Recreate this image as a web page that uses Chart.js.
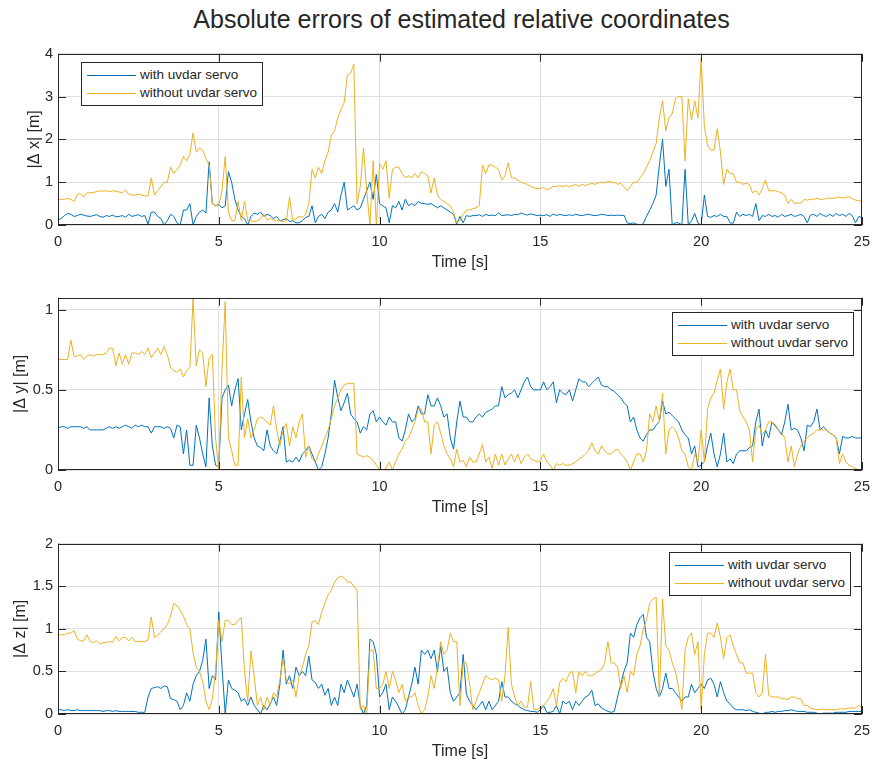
<!DOCTYPE html>
<html>
<head>
<meta charset="utf-8">
<script src="https://cdn.jsdelivr.net/npm/chart.js@4.4.1/dist/chart.umd.min.js"></script>
<style>
  body { margin: 0; background: #fff; width: 878px; height: 764px; overflow: hidden; position: relative;
         font-family: "Liberation Sans", Arial, sans-serif; color: #262626; }
  .title { position: absolute; left: 58px; width: 807px; top: 7px; text-align: center;
           font-size: 25px; line-height: 25px; }
  .plot { position: absolute; left: 0; }
  .legend { position: absolute; width: 180px; height: 39px; border: 1px solid #262626; background: #fff;
            padding-top: 3px; box-sizing: content-box; font-size: 13.5px; }
  .legend .row { height: 18px; line-height: 18px; white-space: nowrap; display: flex; align-items: center; }
  .legend .swatch { display: inline-block; width: 49px; border-top: 1px solid; margin: 0 4px 0 5px; }
</style>
</head>
<body>
<div class="title">Absolute errors of estimated relative coordinates</div>

<div class="plot" style="top:40px"><canvas id="cx" width="878" height="240"></canvas></div>
<div class="plot" style="top:284px"><canvas id="cy" width="878" height="241"></canvas></div>
<div class="plot" style="top:530px"><canvas id="cz" width="878" height="239"></canvas></div>

<div class="legend" style="left:81px;top:62px">
  <div class="row"><span class="swatch" style="border-color:#0072BD"></span>with uvdar servo</div>
  <div class="row"><span class="swatch" style="border-color:#EDB120"></span>without uvdar servo</div>
</div>
<div class="legend" style="left:672px;top:312px">
  <div class="row"><span class="swatch" style="border-color:#0072BD"></span>with uvdar servo</div>
  <div class="row"><span class="swatch" style="border-color:#EDB120"></span>without uvdar servo</div>
</div>
<div class="legend" style="left:669px;top:552px">
  <div class="row"><span class="swatch" style="border-color:#0072BD"></span>with uvdar servo</div>
  <div class="row"><span class="swatch" style="border-color:#EDB120"></span>without uvdar servo</div>
</div>

<script>
// ==================== DATOS ====================
// muestras cada 0.1 s, de 0 a 25 s (una fila = un segundo)

const seriesNames = ["with uvdar servo", "without uvdar servo"];
const xTicks = [0, 5, 10, 15, 20, 25];

// |Δ x|
const xWith = [
  0.12,0.15,0.22,0.27,0.25,0.2,0.22,0.25,0.23,0.21,
  0.2,0.22,0.24,0.2,0.18,0.22,0.2,0.23,0.19,0.2,
  0.22,0.18,0.25,0.2,0.22,0.24,0.2,0.22,0.02,0.3,
  0.3,0.2,0.15,0.0,0.1,0.25,0.2,0.05,0.0,0.35,
  0.35,0.5,0.0,0.2,0.3,0.35,0.28,1.48,0.5,0.45,
  0.48,0.4,0.45,1.25,1.0,0.6,0.35,0.2,0.15,0.0,
  0.2,0.28,0.25,0.3,0.2,0.25,0.22,0.15,0.2,0.1,
  0.12,0.15,0.08,0.1,0.05,0.05,0.1,0.18,0.2,0.45,
  0.05,0.2,0.25,0.15,0.3,0.35,0.5,0.3,0.7,1.0,
  0.35,0.4,0.45,0.35,0.4,0.6,0.8,1.0,0.6,1.18,
  0.5,0.45,0.4,0.05,0.45,0.4,0.55,0.35,0.6,0.45,
  0.5,0.45,0.55,0.5,0.5,0.48,0.5,0.45,0.4,0.45,
  0.4,0.35,0.3,0.25,0.02,0.2,0.05,0.22,0.2,0.22,
  0.22,0.24,0.2,0.25,0.22,0.23,0.22,0.28,0.22,0.23,
  0.24,0.22,0.25,0.24,0.28,0.25,0.23,0.26,0.24,0.22,
  0.23,0.22,0.24,0.2,0.26,0.22,0.25,0.23,0.22,0.24,
  0.22,0.25,0.23,0.22,0.24,0.25,0.23,0.22,0.23,0.25,
  0.24,0.22,0.23,0.22,0.23,0.22,0.23,0.05,0.03,0.05,
  0.02,0.0,0.03,0.2,0.35,0.5,0.7,1.4,2.0,0.9,
  1.3,0.0,0.05,0.05,0.0,1.3,0.0,0.1,0.27,0.05,
  0.0,0.7,0.2,0.18,0.22,0.2,0.25,0.2,0.2,0.05,
  0.04,0.3,0.2,0.25,0.22,0.25,0.2,0.5,0.1,0.22,
  0.2,0.25,0.2,0.22,0.18,0.25,0.2,0.22,0.25,0.2,
  0.22,0.25,0.2,0.05,0.23,0.25,0.2,0.27,0.22,0.2,
  0.25,0.2,0.27,0.22,0.25,0.2,0.27,0.22,0.05,0.2,
  0.17
];
const xWithout = [
  0.58,0.6,0.6,0.62,0.6,0.55,0.72,0.73,0.65,0.75,
  0.75,0.76,0.78,0.8,0.79,0.8,0.78,0.8,0.79,0.77,
  0.75,0.82,0.72,0.7,0.7,0.72,0.7,0.68,0.68,1.1,
  0.7,0.8,0.9,1.0,1.0,1.35,1.2,1.3,1.4,1.6,
  1.5,1.65,2.15,1.7,1.8,1.75,1.55,1.4,0.5,0.45,
  0.45,0.8,1.6,0.3,0.1,0.1,0.55,0.1,0.55,0.1,
  0.1,0.08,0.1,0.15,0.25,0.12,0.15,0.12,0.1,0.1,
  0.08,0.1,0.65,0.1,0.15,0.2,0.18,0.25,0.5,1.3,
  1.1,1.35,1.2,1.5,1.7,2.1,2.2,2.5,2.7,2.86,
  3.5,3.55,3.75,0.5,0.9,1.8,0.8,0.0,1.5,0.0,
  1.43,1.3,1.5,0.62,1.3,1.35,1.35,1.2,1.1,1.15,
  1.1,1.2,1.1,1.25,1.2,1.15,0.75,1.1,0.7,0.6,
  0.55,0.5,0.45,0.3,0.05,0.1,0.25,0.35,0.35,0.38,
  0.4,0.45,1.4,1.2,1.4,1.4,1.35,1.3,1.05,1.15,
  1.45,1.1,1.1,1.05,1.0,0.97,0.95,0.9,0.87,0.85,
  0.85,0.88,0.82,0.85,0.9,0.9,0.92,0.9,0.92,0.9,
  0.92,0.95,0.9,0.95,0.92,0.95,0.97,0.95,0.98,1.0,
  0.98,1.02,1.0,1.0,0.95,0.97,0.9,0.8,0.9,1.0,
  1.0,1.1,1.2,1.35,1.5,1.7,1.9,2.5,2.9,2.2,
  2.5,2.6,2.95,3.0,3.0,1.5,2.95,2.45,2.9,2.5,
  3.9,2.3,1.85,1.75,1.75,2.25,1.7,0.95,1.3,1.2,
  1.2,1.0,1.0,0.95,0.97,0.95,0.75,0.8,0.7,0.85,
  1.05,0.8,0.8,0.8,0.78,0.75,0.7,0.5,0.6,0.5,
  0.52,0.5,0.6,0.58,0.6,0.6,0.62,0.6,0.6,0.62,
  0.63,0.62,0.64,0.65,0.63,0.65,0.66,0.62,0.58,0.57,
  0.55
];

// |Δ y|
const yWith = [
  0.26,0.27,0.27,0.26,0.27,0.27,0.27,0.27,0.26,0.27,
  0.25,0.25,0.25,0.25,0.25,0.26,0.27,0.26,0.27,0.26,
  0.27,0.28,0.27,0.26,0.28,0.27,0.28,0.27,0.27,0.23,
  0.27,0.27,0.27,0.26,0.27,0.26,0.2,0.28,0.27,0.1,
  0.25,0.03,0.03,0.28,0.2,0.1,0.02,0.45,0.15,0.03,
  0.02,0.45,0.5,0.53,0.4,0.5,0.57,0.25,0.35,0.44,
  0.3,0.2,0.15,0.14,0.12,0.25,0.15,0.12,0.1,0.18,
  0.27,0.05,0.06,0.05,0.08,0.05,0.1,0.12,0.15,0.1,
  0.05,0.0,0.02,0.1,0.2,0.35,0.56,0.45,0.37,0.42,
  0.48,0.35,0.32,0.3,0.23,0.27,0.25,0.35,0.37,0.3,
  0.33,0.3,0.28,0.33,0.3,0.3,0.2,0.18,0.25,0.35,
  0.3,0.32,0.4,0.35,0.35,0.47,0.4,0.4,0.45,0.4,
  0.33,0.35,0.2,0.13,0.3,0.43,0.33,0.33,0.3,0.3,
  0.33,0.35,0.33,0.36,0.37,0.38,0.4,0.4,0.52,0.45,
  0.47,0.48,0.5,0.45,0.5,0.55,0.58,0.52,0.5,0.5,
  0.5,0.55,0.5,0.52,0.55,0.42,0.5,0.48,0.47,0.5,
  0.43,0.5,0.57,0.55,0.55,0.52,0.54,0.56,0.58,0.53,
  0.52,0.52,0.5,0.49,0.47,0.45,0.42,0.4,0.3,0.33,
  0.25,0.2,0.18,0.22,0.25,0.25,0.28,0.3,0.43,0.35,
  0.36,0.34,0.32,0.3,0.25,0.22,0.2,0.1,0.15,0.02,
  0.03,0.05,0.15,0.23,0.1,0.02,0.1,0.23,0.05,0.07,
  0.04,0.1,0.12,0.12,0.12,0.14,0.15,0.3,0.38,0.15,
  0.25,0.2,0.3,0.28,0.25,0.22,0.3,0.41,0.25,0.26,
  0.25,0.2,0.12,0.28,0.27,0.3,0.38,0.25,0.27,0.25,
  0.23,0.22,0.2,0.1,0.21,0.2,0.2,0.21,0.2,0.2,
  0.2
];
const yWithout = [
  0.69,0.69,0.69,0.69,0.81,0.71,0.71,0.72,0.69,0.71,
  0.72,0.71,0.72,0.72,0.72,0.73,0.76,0.76,0.65,0.73,
  0.66,0.72,0.66,0.73,0.73,0.72,0.74,0.72,0.76,0.7,
  0.73,0.76,0.72,0.77,0.72,0.64,0.62,0.61,0.63,0.58,
  0.62,0.64,1.07,0.65,0.75,0.73,0.52,0.7,0.72,0.2,
  0.0,0.63,1.05,0.2,0.12,0.03,0.03,0.58,0.2,0.32,
  0.2,0.25,0.32,0.33,0.32,0.3,0.28,0.4,0.25,0.15,
  0.25,0.29,0.15,0.27,0.2,0.3,0.35,0.08,0.15,0.07,
  0.05,0.1,0.15,0.2,0.25,0.32,0.4,0.45,0.5,0.53,
  0.54,0.54,0.54,0.1,0.09,0.08,0.09,0.08,0.06,0.03,
  0.0,0.0,0.01,0.05,0.0,0.05,0.1,0.13,0.18,0.2,
  0.25,0.3,0.38,0.38,0.3,0.3,0.1,0.28,0.3,0.23,
  0.15,0.1,0.07,0.02,0.13,0.05,0.06,0.02,0.08,0.05,
  0.05,0.1,0.16,0.05,0.08,0.01,0.1,0.03,0.1,0.03,
  0.07,0.1,0.05,0.1,0.04,0.08,0.1,0.07,0.06,0.05,
  0.06,0.1,0.05,0.03,0.0,0.04,0.03,0.04,0.03,0.03,
  0.04,0.05,0.07,0.08,0.1,0.12,0.17,0.12,0.1,0.15,
  0.12,0.1,0.1,0.12,0.13,0.1,0.08,0.05,0.0,0.05,
  0.1,0.1,0.05,0.12,0.35,0.3,0.4,0.3,0.48,0.1,
  0.25,0.27,0.25,0.2,0.12,0.1,0.02,0.0,0.1,0.05,
  0.25,0.05,0.38,0.45,0.48,0.56,0.63,0.38,0.55,0.63,
  0.5,0.5,0.37,0.33,0.3,0.25,0.05,0.25,0.28,0.22,
  0.25,0.3,0.3,0.27,0.25,0.23,0.2,0.05,0.15,0.02,
  0.1,0.15,0.18,0.2,0.22,0.23,0.25,0.25,0.25,0.25,
  0.23,0.22,0.2,0.04,0.1,0.05,0.03,0.02,0.01,0.0,
  0.0
];

// |Δ z|
const zWith = [
  0.05,0.05,0.04,0.05,0.04,0.04,0.05,0.04,0.04,0.04,
  0.04,0.04,0.04,0.04,0.03,0.04,0.04,0.03,0.04,0.03,
  0.03,0.03,0.03,0.03,0.03,0.02,0.02,0.02,0.2,0.3,
  0.31,0.32,0.3,0.33,0.32,0.18,0.17,0.15,0.05,0.1,
  0.25,0.15,0.35,0.45,0.5,0.63,0.88,0.3,0.45,0.4,
  1.2,0.55,0.0,0.4,0.3,0.28,0.25,0.15,0.18,0.1,
  0.2,0.1,0.05,0.0,0.1,0.05,0.12,0.2,0.1,0.35,
  0.75,0.35,0.45,0.3,0.55,0.45,0.5,0.45,0.68,0.4,
  0.37,0.3,0.35,0.22,0.3,0.1,0.2,0.1,0.35,0.25,
  0.4,0.3,0.2,0.35,0.1,0.0,0.1,0.88,0.85,0.7,
  0.2,0.25,0.35,0.05,0.2,0.15,0.08,0.0,0.05,0.2,
  0.35,0.55,0.35,0.75,0.7,0.75,0.65,0.75,0.5,0.8,
  0.5,0.55,0.25,0.15,0.2,0.25,0.7,0.23,0.15,0.1,
  0.05,0.1,0.15,0.05,0.15,0.05,0.1,0.15,0.38,0.2,
  0.2,0.15,0.12,0.1,0.07,0.05,0.04,0.03,0.03,0.02,
  0.05,0.1,0.02,0.02,0.03,0.1,0.0,0.15,0.12,0.15,
  0.05,0.15,0.1,0.15,0.2,0.22,0.28,0.1,0.12,0.07,
  0.05,0.03,0.02,0.03,0.2,0.35,0.5,0.6,0.95,0.9,
  1.05,1.13,1.17,0.9,0.85,0.5,0.3,0.2,0.3,0.48,
  0.3,0.3,0.25,0.2,0.15,0.2,0.2,0.35,0.25,0.3,
  0.35,0.3,0.4,0.42,0.35,0.2,0.38,0.25,0.15,0.12,
  0.07,0.05,0.05,0.05,0.04,0.05,0.03,0.02,0.01,0.0,
  0.02,0.02,0.03,0.02,0.03,0.03,0.04,0.04,0.05,0.04,
  0.03,0.03,0.03,0.02,0.02,0.02,0.01,0.0,0.01,0.01,
  0.01,0.01,0.02,0.02,0.02,0.02,0.03,0.03,0.03,0.03,
  0.03
];
const zWithout = [
  0.93,0.93,0.93,0.95,0.95,0.98,0.88,0.86,0.86,0.93,
  0.85,0.84,0.86,0.82,0.84,0.84,0.85,0.84,0.91,0.86,
  0.9,0.9,0.86,0.9,0.85,0.85,0.85,0.85,0.87,1.14,
  0.9,0.92,0.97,1.0,1.05,1.15,1.3,1.27,1.22,1.15,
  1.05,1.0,0.72,0.55,0.5,0.38,0.15,0.05,0.18,0.5,
  1.1,0.85,1.1,1.1,1.05,1.05,1.1,1.13,0.5,0.15,
  0.74,0.45,0.1,0.2,0.05,0.2,0.1,0.25,0.2,0.4,
  0.65,0.4,0.35,0.4,0.2,0.45,0.55,0.7,0.8,1.08,
  1.1,1.05,1.2,1.3,1.4,1.45,1.55,1.6,1.62,1.6,
  1.55,1.55,1.5,1.45,0.05,0.1,0.0,0.75,0.75,0.3,
  0.3,0.35,0.5,0.3,0.5,0.4,0.25,0.35,0.15,0.2,
  0.2,0.25,0.1,0.0,0.05,0.2,0.45,0.3,0.55,0.85,
  0.7,0.75,0.95,0.85,0.85,0.1,0.6,0.6,0.35,0.05,
  0.15,0.25,0.35,0.45,0.42,0.4,0.42,0.4,0.15,0.45,
  1.02,0.35,0.2,0.1,0.15,0.08,0.08,0.38,0.05,0.05,
  0.08,0.1,0.15,0.2,0.3,0.1,0.37,0.42,0.38,0.48,
  0.5,0.25,0.5,0.45,0.5,0.45,0.45,0.47,0.5,0.52,
  0.6,0.85,0.6,0.6,0.55,0.3,0.45,0.25,0.5,0.45,
  0.7,0.8,1.0,1.1,1.3,1.35,1.37,0.2,1.35,0.8,
  0.75,0.6,0.5,0.3,0.05,0.75,0.9,0.95,0.7,0.85,
  0.05,0.7,0.95,0.95,0.9,1.07,0.9,0.65,0.9,0.93,
  0.8,0.7,0.6,0.6,0.48,0.48,0.48,0.25,0.2,0.25,
  0.7,0.22,0.2,0.2,0.2,0.18,0.18,0.17,0.2,0.2,
  0.18,0.18,0.1,0.1,0.07,0.06,0.05,0.05,0.06,0.05,
  0.05,0.05,0.05,0.06,0.06,0.06,0.07,0.07,0.07,0.1,
  0.08
];

// eje de tiempo [s]
const time = xWith.map((_, i) => +(i * 0.1).toFixed(1));

// ==================== ESTILO ====================

const FONT = '"Liberation Sans", Arial, sans-serif';
const INK = "#262626";
const BLUE = "#0072BD";
const ORANGE = "#EDB120";
const GRID = "#dfdfdf";

// marco negro y marcas hacia dentro (estilo MATLAB)
const boxTicks = {
  id: "boxTicks",
  afterDatasetsDraw(chart) {
    const { ctx, chartArea: a, scales } = chart;
    const sx = scales.x, sy = scales.y;
    ctx.save();
    ctx.strokeStyle = INK;
    ctx.lineWidth = 1;
    ctx.beginPath();
    sx.ticks.forEach((t) => {
      const px = Math.round(sx.getPixelForValue(t.value)) + 0.5;
      ctx.moveTo(px, a.bottom); ctx.lineTo(px, a.bottom - 8);
      ctx.moveTo(px, a.top); ctx.lineTo(px, a.top + 8);
    });
    sy.ticks.forEach((t) => {
      const py = Math.round(sy.getPixelForValue(t.value)) + 0.5;
      ctx.moveTo(a.left, py); ctx.lineTo(a.left + 8, py);
      ctx.moveTo(a.right, py); ctx.lineTo(a.right - 8, py);
    });
    ctx.stroke();
    ctx.strokeRect(Math.round(a.left) + 0.5, Math.round(a.top) + 0.5,
                   Math.round(a.width) - 1, Math.round(a.height) - 1);
    ctx.restore();
  },
};

function toPoints(arr) {
  return arr.map((v, i) => ({ x: time[i], y: v }));
}

// etiquetas como en MATLAB: 1, 0.5, 1.5
const fmt = (v) => String(Math.round(v * 100) / 100);

function crearGrafico(id, withArr, withoutArr, yMax, yStep, yLabel, labelPad) {
  const ctx = document.getElementById(id).getContext("2d");
  return new Chart(ctx, {
    type: "line",
    data: {
      datasets: [
        { label: seriesNames[0], data: toPoints(withArr), borderColor: BLUE, borderWidth: 1, order: 1 },
        { label: seriesNames[1], data: toPoints(withoutArr), borderColor: ORANGE, borderWidth: 1, order: 0 },
      ],
    },
    options: {
      responsive: false,
      animation: false,
      devicePixelRatio: 1,
      parsing: false,
      elements: { point: { radius: 0 }, line: { tension: 0 } },
      layout: { padding: { left: 0, right: 13, top: 12, bottom: 0 } },
      plugins: { legend: { display: false }, tooltip: { enabled: false } },
      scales: {
        x: {
          type: "linear",
          min: 0,
          max: 25,
          afterBuildTicks: (s) => { s.ticks = xTicks.map((v) => ({ value: v })); },
          afterFit: (s) => { s.height = 55; },
          grid: { color: GRID, drawTicks: false },
          border: { display: false },
          ticks: { padding: 8, color: INK, font: { family: FONT, size: 14.5 }, maxRotation: 0, callback: fmt },
          title: { display: true, text: "Time [s]", color: INK, font: { family: FONT, size: 16 },
                   padding: { top: 0, bottom: 8 } },
        },
        y: {
          min: 0,
          max: yMax,
          afterFit: (s) => { s.width = 58; },
          grid: { color: GRID, drawTicks: false },
          border: { display: false },
          ticks: { stepSize: yStep, includeBounds: false, padding: 5, color: INK,
                   font: { family: FONT, size: 14.5 }, callback: fmt },
          title: { display: true, text: yLabel, color: INK, font: { family: FONT, size: 16 },
                   padding: { top: labelPad, bottom: 0 } },
        },
      },
    },
    plugins: [boxTicks],
  });
}

// ==================== INICIALIZACIÓN ====================

crearGrafico("cx", xWith, xWithout, 4, 1, "|Δ x| [m]", 25);
crearGrafico("cy", yWith, yWithout, 1.075, 0.5, "|Δ y| [m]", 11);
crearGrafico("cz", zWith, zWithout, 2, 0.5, "|Δ z| [m]", 11);
</script>
</body>
</html>
